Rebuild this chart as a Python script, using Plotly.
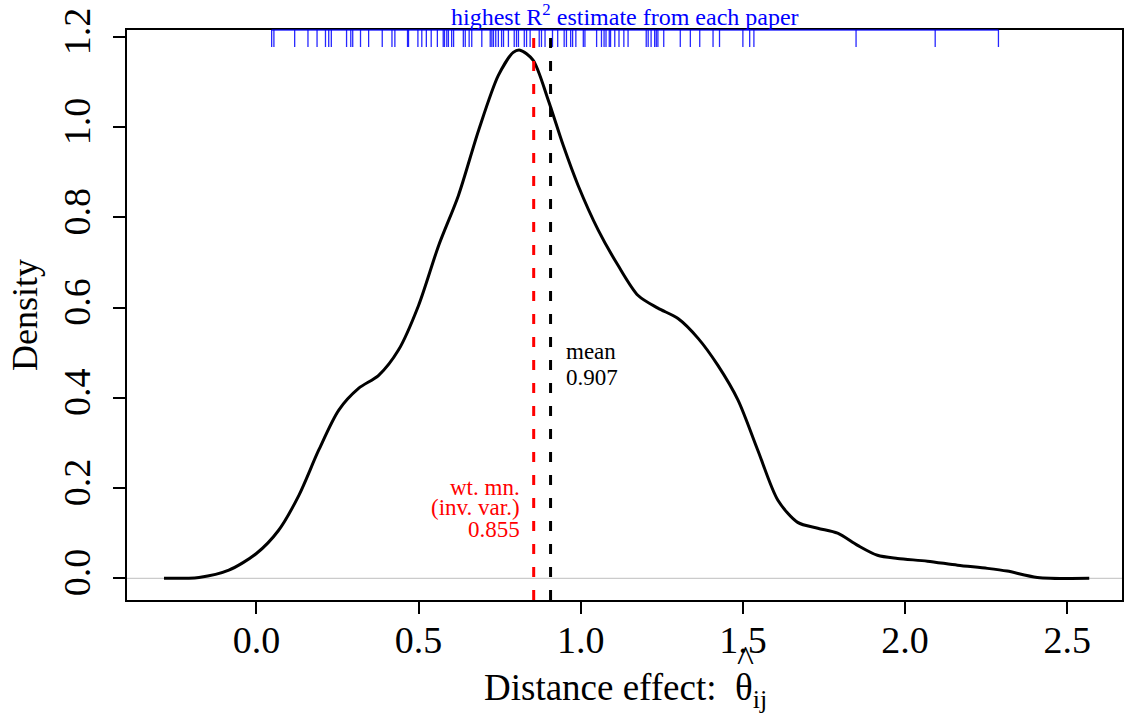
import plotly.graph_objects as go

# density curve
dens_x = [-0.285, -0.177, -0.085, 0.0, 0.068, 0.131, 0.192, 0.254, 0.315, 0.377, 0.438,
          0.500, 0.562, 0.623, 0.685, 0.746, 0.792, 0.813, 0.853, 0.900, 0.946, 0.992,
          1.054, 1.115, 1.177, 1.238, 1.300, 1.362, 1.423, 1.485, 1.546, 1.608, 1.669,
          1.731, 1.792, 1.854, 1.915, 1.977, 2.069, 2.162, 2.254, 2.315, 2.408, 2.568]
dens_y = [0.000, 0.002, 0.018, 0.055, 0.106, 0.184, 0.284, 0.373, 0.421, 0.450, 0.506,
          0.605, 0.738, 0.849, 0.993, 1.115, 1.166, 1.171, 1.149, 1.060, 0.960, 0.871,
          0.772, 0.694, 0.627, 0.599, 0.576, 0.532, 0.472, 0.395, 0.284, 0.173, 0.124,
          0.111, 0.100, 0.073, 0.051, 0.044, 0.038, 0.029, 0.022, 0.016, 0.002, 0.000]

# highest R^2 estimate from each paper (rug)
rug_x = [0.047, 0.054, 0.118, 0.159, 0.187, 0.213, 0.223, 0.231, 0.278, 0.291, 0.297,
         0.321, 0.346, 0.388, 0.418, 0.427, 0.466, 0.469, 0.498, 0.510, 0.524, 0.539,
         0.558, 0.576, 0.580, 0.587, 0.592, 0.602, 0.608, 0.638, 0.644, 0.656, 0.664,
         0.695, 0.721, 0.726, 0.731, 0.738, 0.746, 0.756, 0.762, 0.777, 0.795, 0.802,
         0.808, 0.826, 0.833, 0.844, 0.872, 0.879, 0.890, 0.913, 0.929, 0.949, 0.956,
         0.969, 0.975, 0.985, 1.008, 1.013, 1.049, 1.064, 1.072, 1.078, 1.088, 1.092,
         1.105, 1.118, 1.133, 1.146, 1.202, 1.208, 1.217, 1.228, 1.233, 1.238, 1.256,
         1.307, 1.338, 1.367, 1.408, 1.428, 1.500, 1.521, 1.534, 1.849, 2.093, 2.288]

mean_val = 0.907
wmean_val = 0.855

x_ticks = [0.0, 0.5, 1.0, 1.5, 2.0, 2.5]
x_tick_labels = ["0.0", "0.5", "1.0", "1.5", "2.0", "2.5"]
y_ticks = [0.0, 0.2, 0.4, 0.6, 0.8, 1.0, 1.2]
y_tick_labels = ["0.0", "0.2", "0.4", "0.6", "0.8", "1.0", "1.2"]

FONT = "Liberation Serif"

fig = go.Figure()
fig.add_trace(go.Scatter(x=dens_x, y=dens_y, mode="lines",
                         line=dict(color="black", width=3, shape="spline", smoothing=0.8),
                         hoverinfo="skip", showlegend=False))

shapes = []
# zero line
shapes.append(dict(type="line", xref="paper", yref="y", x0=0, x1=1, y0=0, y1=0,
                   line=dict(color="#bebebe", width=1), layer="below"))
# rug
for v in rug_x:
    shapes.append(dict(type="line", xref="x", yref="paper", x0=v, x1=v, y0=1, y1=1 - 17 / 570,
                       line=dict(color="rgba(0,0,255,0.85)", width=1.3), layer="above"))
shapes.append(dict(type="line", xref="x", yref="paper", x0=min(rug_x), x1=max(rug_x), y0=1, y1=1,
                   line=dict(color="rgba(0,0,255,0.8)", width=1.5), layer="above"))
# mean lines
shapes.append(dict(type="line", xref="x", yref="paper", x0=wmean_val, x1=wmean_val, y0=0, y1=1,
                   line=dict(color="red", width=3, dash="10px,13px"), layer="above"))
shapes.append(dict(type="line", xref="x", yref="paper", x0=mean_val, x1=mean_val, y0=0, y1=1,
                   line=dict(color="black", width=3, dash="10px,13px"), layer="above"))

ann = []
ann.append(dict(text="mean", x=mean_val, y=0.5018, xref="x", yref="y", xanchor="left", yanchor="middle",
                xshift=13, showarrow=False, font=dict(family=FONT, size=23, color="black")))
ann.append(dict(text="%.3f" % mean_val, x=mean_val, y=0.4460, xref="x", yref="y", xanchor="left", yanchor="middle",
                xshift=13, showarrow=False, font=dict(family=FONT, size=23, color="black")))
ann.append(dict(text="wt. mn.", x=wmean_val, y=0.2024, xref="x", yref="y", xanchor="right", yanchor="middle",
                xshift=-12, showarrow=False, font=dict(family=FONT, size=23, color="red")))
ann.append(dict(text="(inv. var.)", x=wmean_val, y=0.1559, xref="x", yref="y", xanchor="right", yanchor="middle",
                xshift=-12, showarrow=False, font=dict(family=FONT, size=23, color="red")))
ann.append(dict(text="%.3f" % wmean_val, x=wmean_val, y=0.1093, xref="x", yref="y", xanchor="right", yanchor="middle",
                xshift=-12, showarrow=False, font=dict(family=FONT, size=23, color="red")))
ann.append(dict(text="highest R<sup>2</sup> estimate from each paper", x=0.5, y=1, xref="paper", yref="paper",
                xanchor="center", yanchor="middle", yshift=15, showarrow=False,
                font=dict(family=FONT, size=24, color="blue")))
ann.append(dict(text="Density", x=0, y=0.5, xref="paper", yref="paper", xanchor="center", yanchor="middle",
                xshift=-102, textangle=-90, showarrow=False, font=dict(family=FONT, size=36, color="black")))
ann.append(dict(text="Distance effect:  θ<sub>ij</sub>", x=0.5015, y=0, xref="paper", yref="paper",
                xanchor="center", yanchor="middle", yshift=-90, showarrow=False,
                font=dict(family=FONT, size=37, color="black")))
ann.append(dict(text="^", x=0.6215, y=0, xref="paper", yref="paper",
                xanchor="center", yanchor="middle", yshift=-59, showarrow=False,
                font=dict(family=FONT, size=36, color="black")))

fig.update_layout(
    width=1125, height=717,
    margin=dict(l=127, r=1, t=30, b=117),
    plot_bgcolor="white", paper_bgcolor="white",
    font=dict(family=FONT, size=38, color="black"),
    shapes=shapes, annotations=ann, showlegend=False,
    xaxis=dict(range=[-0.399, 2.669], tickvals=x_ticks, ticktext=x_tick_labels, showgrid=False, zeroline=False,
               showline=True, mirror=True, linecolor="black", linewidth=1.5,
               ticks="outside", ticklen=12, tickwidth=1.5, tickcolor="black",
               ticklabelstandoff=-6, tickfont=dict(family=FONT, size=38)),
    yaxis=dict(range=[-0.0481, 1.2157], tickvals=y_ticks, ticktext=y_tick_labels, showgrid=False, zeroline=False,
               showline=True, mirror=True, linecolor="black", linewidth=1.5,
               ticks="outside", ticklen=12, tickwidth=1.5, tickcolor="black", tickangle=-90,
               ticklabelstandoff=8, tickfont=dict(family=FONT, size=38)),
)

fig.write_html("out.html", config={"displayModeBar": False},
               post_script="document.body.style.margin='0px';")
